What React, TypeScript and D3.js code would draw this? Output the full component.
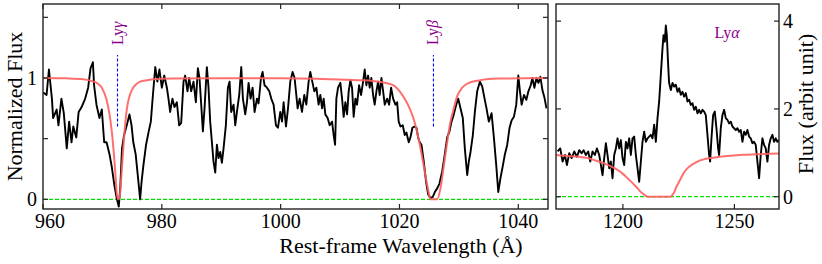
import React from 'react';
import * as d3 from 'd3';

// ---------- data ----------
const leftWave = [
  960.06, 960.6, 961.0, 961.5, 961.7, 962.3, 962.6, 963.1, 963.5, 964.0, 964.4, 964.8, 965.1, 965.6, 966.0, 966.5,
  967.1, 967.6, 968.0, 968.4, 968.6, 969.0, 969.5, 969.9, 970.3, 970.7, 971.2, 971.6, 972.0, 972.4, 972.75, 973.0,
  973.3, 973.65, 974.1, 974.55, 974.9, 975.2, 975.6, 975.95, 976.35, 976.6, 976.9, 977.35, 977.75, 978.15, 978.5,
  978.9, 979.25, 979.6, 980.0, 980.4, 980.85, 981.12, 981.4, 981.79, 982.13, 982.53, 982.92, 983.26, 983.65, 983.93,
  984.32, 984.6, 984.94, 985.33, 985.73, 986.07, 986.34, 986.63, 986.91, 987.19, 987.58, 987.86, 988.14, 988.43,
  988.7, 988.99, 989.27, 989.55, 989.83, 990.11, 990.39, 990.78, 991.12, 991.4, 991.68, 992.07, 992.36, 992.64,
  993.03, 993.37, 993.65, 994.04, 994.33, 994.6, 994.94, 995.28, 995.61, 996.01, 996.28, 996.69, 996.96, 997.29,
  997.7, 998.09, 998.42, 998.81, 999.21, 999.55, 999.94, 1000.23, 1000.5, 1000.9, 1001.24, 1001.62, 1002.01, 1002.35,
  1002.47, 1002.86, 1003.2, 1003.59, 1003.98, 1004.32, 1004.71, 1004.99, 1005.28, 1005.67, 1006.01, 1006.39, 1006.68,
  1006.97, 1007.24, 1007.52, 1007.91, 1008.25, 1008.65, 1008.92, 1009.16, 1009.38, 1009.66, 1010.05, 1010.34,
  1010.61, 1010.89, 1011.18, 1011.45, 1011.74, 1012.02, 1012.29, 1012.58, 1012.86, 1013.2, 1013.54, 1013.88,
  1014.15, 1014.43, 1014.72, 1014.99, 1015.27, 1015.56, 1015.83, 1016.12, 1016.4, 1016.67, 1016.96, 1017.25,
  1017.52, 1017.92, 1018.26, 1018.59, 1018.93, 1019.32, 1019.61, 1019.87, 1020.16, 1020.55, 1020.89, 1021.17,
  1021.56, 1021.85, 1022.18, 1022.52, 1022.86, 1023.14, 1023.41, 1023.7, 1024.09, 1024.49, 1024.83, 1025.22,
  1025.61, 1025.95, 1026.35, 1026.73, 1027.19, 1027.63, 1028.03, 1028.42, 1028.76, 1029.14, 1029.55, 1029.89,
  1030.27, 1030.66, 1031.0, 1031.4, 1031.67, 1031.96, 1032.35, 1032.69, 1033.08, 1033.53, 1033.93, 1034.32,
  1034.65, 1035.04, 1035.5, 1035.89, 1036.29, 1036.63, 1037.02, 1037.41, 1037.74, 1038.14, 1038.53, 1038.87,
  1039.26, 1039.66, 1040.0, 1040.28, 1040.56, 1040.96, 1041.36, 1041.7, 1042.09, 1042.37, 1042.71, 1043.05,
  1043.39, 1043.72, 1044.06, 1044.4, 1044.74,
];
const leftFlux = [
  0.88, 0.86, 1.07, 0.83, 0.67, 0.74, 0.61, 0.83, 0.71, 0.42, 0.64, 0.47, 0.6, 0.51, 0.72, 0.76,
  0.83, 0.92, 1.08, 1.13, 0.94, 0.78, 0.67, 0.74, 0.47, 0.47, 0.37, 0.26, 0.12, 0.01, -0.06, 0.09,
  0.42, 0.53, 0.61, 0.7, 0.61, 0.47, 0.37, 0.2, 0.0, 0.15, 0.28, 0.45, 0.55, 0.64, 0.86,
  1.09, 0.97, 1.07, 0.92, 1.02, 0.92, 0.83, 0.72, 0.83, 0.76, 0.8, 0.61, 0.63, 0.97, 1.02,
  0.89, 1.0, 0.89, 0.97, 0.8, 1.08, 1.0, 0.78, 0.56, 0.75, 1.09, 0.92, 0.64, 0.47,
  0.31, 0.22, 0.45, 0.34, 0.39, 0.3, 0.42, 0.61, 0.92, 0.97, 0.72, 0.78, 0.61, 0.72,
  0.86, 1.09, 0.83, 0.7, 0.8, 0.96, 0.83, 0.92, 0.72, 0.83, 0.79, 1.0, 1.05, 0.94,
  0.92, 0.89, 0.83, 0.78, 0.61, 0.59, 0.72, 0.64, 0.8, 0.6, 0.75, 0.97, 1.05, 1.0,
  0.94, 0.75, 0.83, 0.72, 0.86, 0.78, 0.97, 1.05, 0.98, 0.89, 0.92, 0.78, 0.86,
  0.75, 0.83, 0.7, 0.67, 0.61, 0.64, 0.53, 0.45, 0.83, 0.92, 0.96, 0.83,
  0.68, 0.8, 0.7, 0.89, 0.98, 0.92, 0.68, 0.83, 0.78, 0.94, 0.86, 0.97,
  1.07, 0.94, 1.02, 0.92, 1.0, 0.86, 0.78, 0.89, 0.97, 0.86, 1.0, 0.89,
  0.78, 0.83, 0.78, 0.92, 0.83, 0.78, 0.8, 0.64, 0.6, 0.61, 0.53, 0.55,
  0.47, 0.51, 0.59, 0.6, 0.59, 0.51, 0.47, 0.45, 0.31, 0.14, 0.04, 0.01,
  0.02, 0.06, 0.09, 0.13, 0.23, 0.37, 0.51, 0.56, 0.64, 0.7, 0.78, 0.83,
  0.75, 0.67, 0.42, 0.2, 0.31, 0.39, 0.53, 0.72, 0.89, 0.97, 0.93, 0.83,
  0.75, 0.64, 0.71, 0.51, 0.28, 0.06, 0.18, 0.28, 0.37, 0.45, 0.59, 0.65,
  0.68, 0.78, 1.02, 0.89, 0.78, 0.86, 0.82, 0.89, 0.94, 1.0, 0.92, 1.0,
  0.96, 1.01, 0.9, 0.84, 0.75,
];

const leftModelWave = [
  960, 964, 966.8, 968.2, 969.05, 969.9, 970.7, 971.2, 971.6, 972.1, 972.4, 972.6, 972.8, 973.0, 973.2, 973.5,
  973.8, 974.1, 974.5, 974.95, 975.6, 976.35, 977.5, 978.6, 982, 990, 1000, 1006, 1010, 1013, 1015.5, 1017.5,
  1019, 1020.2, 1021.1, 1021.8, 1022.4, 1022.9, 1023.3, 1023.7, 1024.1, 1024.5, 1024.9, 1025.2, 1026.35, 1026.9,
  1027.47, 1028.03, 1028.59, 1029.15, 1029.72, 1030.56, 1031.69, 1033.37, 1036.74, 1045,
];
const leftModelFlux = [
  1.0, 0.997, 0.99, 0.975, 0.96, 0.92, 0.82, 0.7, 0.55, 0.27, 0.06, 0.0, 0.0, 0.06, 0.2, 0.41,
  0.6, 0.74, 0.84, 0.9, 0.945, 0.97, 0.982, 0.99, 0.995, 0.998, 0.997, 0.993, 0.988, 0.982, 0.975, 0.96,
  0.94, 0.88, 0.81, 0.74, 0.66, 0.57, 0.48, 0.38, 0.27, 0.16, 0.06, 0.0, 0.0, 0.09,
  0.28, 0.47, 0.64, 0.75, 0.85, 0.92, 0.96, 0.98, 0.995, 1.0,
];

const rightWave = [
  1170.71, 1171.91, 1172.95, 1174.0, 1174.9, 1175.94, 1176.99, 1178.18, 1179.38, 1180.42, 1181.47, 1182.36,
  1183.41, 1184.45, 1185.35, 1186.39, 1187.44, 1188.34, 1189.38, 1190.13, 1190.87, 1191.62, 1192.37, 1193.11,
  1193.86, 1194.61, 1195.35, 1196.1, 1196.85, 1197.59, 1198.34, 1199.09, 1199.83, 1200.58, 1201.33, 1202.07,
  1202.82, 1203.57, 1204.31, 1205.06, 1205.81, 1206.55, 1207.3, 1208.05, 1208.79, 1209.54, 1210.29, 1211.04,
  1211.78, 1212.53, 1213.28, 1214.02, 1214.77, 1215.52, 1216.26, 1217.01, 1217.76, 1218.2, 1218.8, 1219.25,
  1219.7, 1220.2, 1220.7, 1221.49, 1222.24, 1222.98, 1223.73, 1224.48, 1225.22, 1225.97, 1226.72, 1227.46,
  1228.21, 1228.96, 1229.7, 1230.45, 1231.2, 1231.94, 1232.69, 1233.44, 1234.18, 1234.93, 1235.68, 1236.42,
  1237.17, 1237.92, 1238.66, 1239.11, 1239.71, 1240.46, 1241.2, 1241.95, 1242.7, 1243.15, 1243.89, 1244.64,
  1245.39, 1246.13, 1246.88, 1247.63, 1248.37, 1249.12, 1249.87, 1250.61, 1251.36, 1252.11, 1252.85, 1253.6,
  1254.35, 1255.09, 1255.84, 1256.59, 1257.33, 1258.08, 1258.83, 1259.57, 1260.32, 1261.07, 1261.81, 1262.56,
  1263.31, 1264.05, 1264.8, 1265.55, 1266.29, 1267.04, 1267.79, 1268.53, 1269.28, 1270.0,
];
const rightFlux = [
  1.03, 1.1, 0.8, 0.95, 0.72, 0.99, 0.88, 1.03, 0.91, 1.06, 0.99, 1.06,
  0.95, 1.03, 0.8, 1.03, 0.95, 1.1, 0.95, 0.72, 0.49, 0.88, 1.22, 0.95,
  0.65, 0.8, 0.42, 0.95, 1.1, 1.33, 1.1, 1.29, 0.88, 0.72, 1.25, 1.1,
  1.33, 0.95, 1.33, 1.37, 0.95, 0.65, 0.34, 0.8, 1.25, 1.48, 1.25, 1.33,
  1.37, 1.41, 1.33, 1.64, 1.25, 1.79, 2.17, 2.78, 3.38, 3.68, 3.53, 3.9,
  3.68, 3.1, 2.6, 2.43, 2.59, 2.51, 2.55, 2.39, 2.47, 2.32, 2.39, 2.28,
  2.36, 2.17, 2.21, 2.09, 2.13, 1.98, 2.05, 1.9, 1.98, 1.9, 1.98, 1.94,
  1.86, 1.41, 0.95, 0.8, 1.33, 1.86, 1.94, 1.56, 1.1, 0.95, 1.56, 1.86,
  1.98, 1.79, 1.75, 1.67, 1.71, 1.6, 1.56, 1.52, 1.56, 1.48, 1.52, 1.25,
  1.48, 1.41, 1.52, 1.37, 1.33, 1.22, 1.25, 1.18, 0.8, 0.42, 0.95, 1.33,
  1.18, 1.1, 0.8, 1.18, 1.33, 1.41, 1.25, 1.33, 1.25, 1.29,
];

const rightModelWave = [
  1170, 1175, 1180, 1184.2, 1188, 1191.6, 1194.6, 1197.6, 1200, 1202.1, 1203.6, 1205.1, 1206.6, 1208.0, 1209.2,
  1210.3, 1211.2, 1221.4, 1222.2, 1223.0, 1223.7, 1224.8, 1226.0, 1227.4, 1229.0, 1231.0, 1233.4, 1236.2, 1239.4,
  1243.5, 1248.4, 1254, 1260.3, 1270,
];
const rightModelFlux = [
  0.95, 0.93, 0.91, 0.88, 0.82, 0.76, 0.69, 0.61, 0.52, 0.42, 0.35, 0.27, 0.19, 0.11, 0.06,
  0.02, 0.0, 0.0, 0.04, 0.1, 0.19, 0.3, 0.42, 0.55, 0.65, 0.73, 0.8, 0.85, 0.88,
  0.91, 0.935, 0.955, 0.97, 0.985,
];

const leftXTicks = [960, 980, 1000, 1020, 1040];
const leftYTicks = [0, 0.5, 1, 1.5];
const leftYLabels = [0, 1];
const rightXTicks = [1200, 1250];
const rightYTicks = [0, 2, 4];
const lineNames = ['γ', 'β'];
const lineWaves = [972.54, 1025.72];

// ---------- layout ----------
const W = 822;
const H = 264;
const TOP = 4;
const BOTTOM = 209;
const L = { x0: 43, x1: 548 };
const R = { x0: 556, x1: 779 };
const FONT = "'Liberation Serif', 'DejaVu Serif', 'Times New Roman', serif";
const PURPLE = '#8b008b';
const RED = '#ff5f5f';
const GREEN = '#00e000';
const TICK = 5;

export default function App() {
  const xL = d3.scaleLinear().domain([960, 1045]).range([L.x0, L.x1]);
  const yL = d3.scaleLinear().domain([-0.08, 1.61]).range([BOTTOM, TOP]);
  const xR = d3.scaleLinear().domain([1170, 1270]).range([R.x0, R.x1]);
  const yR = d3.scaleLinear().domain([-0.28, 4.39]).range([BOTTOM, TOP]);

  const leftData = leftWave.map((w, i) => [w, leftFlux[i]] as [number, number]);
  const leftModel = leftModelWave.map((w, i) => [w, leftModelFlux[i]] as [number, number]);
  const rightData = rightWave.map((w, i) => [w, rightFlux[i]] as [number, number]);
  const rightModel = rightModelWave.map((w, i) => [w, rightModelFlux[i]] as [number, number]);

  const lineL = d3.line<[number, number]>().x(d => xL(d[0])).y(d => yL(d[1]));
  const modelL = d3.line<[number, number]>().x(d => xL(d[0])).y(d => yL(d[1])).curve(d3.curveMonotoneX);
  const lineR = d3.line<[number, number]>().x(d => xR(d[0])).y(d => yR(d[1]));
  const modelR = d3.line<[number, number]>().x(d => xR(d[0])).y(d => yR(d[1])).curve(d3.curveMonotoneX);

  const ts = { fontFamily: FONT };

  return (
    <svg width={W} height={H} style={{ position: 'absolute', left: 0, top: 0, background: '#fff', fontFamily: FONT }}>
      <defs>
        <clipPath id="clipL"><rect x={L.x0} y={TOP} width={L.x1 - L.x0} height={BOTTOM - TOP} /></clipPath>
        <clipPath id="clipR"><rect x={R.x0} y={TOP} width={R.x1 - R.x0} height={BOTTOM - TOP} /></clipPath>
      </defs>

      {/* ---- left panel ---- */}
      <g clipPath="url(#clipL)">
        <line x1={L.x0} x2={L.x1} y1={yL(0)} y2={yL(0)} stroke={GREEN} strokeWidth={1.2} strokeDasharray="4,2" />
        <path d={lineL(leftData) || ''} fill="none" stroke="#000" strokeWidth={1.9} strokeLinejoin="round" />
        <path d={modelL(leftModel) || ''} fill="none" stroke={RED} strokeWidth={2} opacity={0.9} />
        {lineWaves.map((w, i) => (
          <line key={i} x1={xL(w)} x2={xL(w)} y1={yL(0.6)} y2={yL(1.19)} stroke="#0000ff" strokeWidth={1.1}
            strokeDasharray="3,2" />
        ))}
      </g>
      {lineWaves.map((w, i) => (
        <text key={i} style={ts} transform={`translate(${xL(w) + 5},45) rotate(-90)`} fontSize={16} fill={PURPLE}
          textAnchor="start">Ly<tspan fontStyle="italic">{lineNames[i]}</tspan></text>
      ))}
      <rect x={L.x0} y={TOP} width={L.x1 - L.x0} height={BOTTOM - TOP} fill="none" stroke="#222" strokeWidth={1.4} />
      {leftXTicks.map(t => (
        <g key={t}>
          <line x1={xL(t)} x2={xL(t)} y1={BOTTOM} y2={BOTTOM - TICK} stroke="#222" strokeWidth={1.2} />
          <line x1={xL(t)} x2={xL(t)} y1={TOP} y2={TOP + TICK} stroke="#222" strokeWidth={1.2} />
          <text style={ts} x={xL(t) + (t === 960 ? 7 : 0)} y={228} fontSize={20} textAnchor="middle">{t}</text>
        </g>
      ))}
      {leftYTicks.map(t => (
        <g key={t}>
          <line x1={L.x0} x2={L.x0 + TICK} y1={yL(t)} y2={yL(t)} stroke="#222" strokeWidth={1.2} />
          <line x1={L.x1} x2={L.x1 - TICK} y1={yL(t)} y2={yL(t)} stroke="#222" strokeWidth={1.2} />
        </g>
      ))}
      {leftYLabels.map(t => (
        <text key={t} style={ts} x={37} y={yL(t)} dy="0.35em" fontSize={20} textAnchor="end">{t}</text>
      ))}
      <text style={ts} transform="translate(21.5,106.5) rotate(-90)" fontSize={22} textAnchor="middle">Normalized Flux</text>
      <text style={ts} x={401} y={253} fontSize={22} textAnchor="middle">Rest-frame Wavelength (Å)</text>

      {/* ---- right panel ---- */}
      <g clipPath="url(#clipR)">
        <line x1={R.x0} x2={R.x1} y1={yR(0)} y2={yR(0)} stroke={GREEN} strokeWidth={1.2} strokeDasharray="4,2" />
        <path d={lineR(rightData) || ''} fill="none" stroke="#000" strokeWidth={1.9} strokeLinejoin="round" />
        <path d={modelR(rightModel) || ''} fill="none" stroke={RED} strokeWidth={2} opacity={0.9} />
      </g>
      <text style={ts} x={xR(1246.7)} y={yR(3.62)} fontSize={16} fill={PURPLE} textAnchor="middle">Ly<tspan fontStyle="italic">α</tspan></text>
      <rect x={R.x0} y={TOP} width={R.x1 - R.x0} height={BOTTOM - TOP} fill="none" stroke="#222" strokeWidth={1.4} />
      {rightXTicks.map(t => (
        <g key={t}>
          <line x1={xR(t)} x2={xR(t)} y1={BOTTOM} y2={BOTTOM - TICK} stroke="#222" strokeWidth={1.2} />
          <text style={ts} x={xR(t)} y={228} fontSize={20} textAnchor="middle">{t}</text>
        </g>
      ))}
      {rightYTicks.map(t => (
        <g key={t}>
          <line x1={R.x0} x2={R.x0 + TICK} y1={yR(t)} y2={yR(t)} stroke="#222" strokeWidth={1.2} />
          <line x1={R.x1} x2={R.x1 - TICK} y1={yR(t)} y2={yR(t)} stroke="#222" strokeWidth={1.2} />
          <text style={ts} x={783} y={yR(t)} dy="0.35em" fontSize={20} textAnchor="start">{t}</text>
        </g>
      ))}
      <text style={ts} transform="translate(813,104) rotate(-90)" fontSize={22} textAnchor="middle">Flux (arbit unit)</text>
    </svg>
  );
}
